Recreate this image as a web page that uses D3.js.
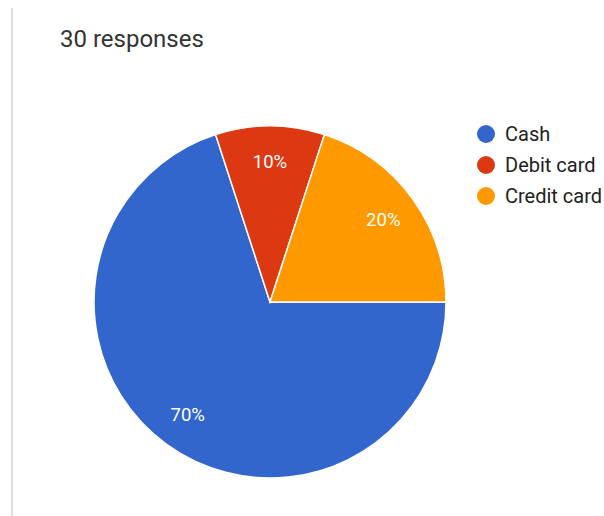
<!DOCTYPE html>
<html>
<head>
    <script src="https://d3js.org/d3.v7.min.js"></script>
    <style>
        body {
            margin: 0;
            background: #fff;
            font-family: Roboto, "Noto Sans", Arial, sans-serif;
        }
        .title {
            font-size: 24px;
            fill: #333;
        }
        .legend text {
            font-size: 20px;
            fill: #222;
        }
        .slice-label {
            font-size: 18.5px;
            fill: #fff;
        }
    </style>
</head>
<body>
    <svg id="chart" width="604" height="516"></svg>
    <script>
        const categories = ["Cash", "Debit card", "Credit card"];
        const values = [21, 3, 6];
        const colors = ["#3366cc", "#dc3912", "#ff9900"];
        const totalResponses = 30;

        const svg = d3.select("svg#chart");
        const width = +svg.attr("width");
        const height = +svg.attr("height");

        // light rule on the left edge
        svg.append("line")
            .attr("x1", 12).attr("x2", 12)
            .attr("y1", 8).attr("y2", height)
            .attr("stroke", "#ddd")
            .attr("stroke-width", 2);

        svg.append("text")
            .attr("class", "title")
            .attr("x", 60)
            .attr("y", 47)
            .text(totalResponses + " responses");

        const cx = 270, cy = 302, radius = 176;
        const color = d3.scaleOrdinal().domain(categories).range(colors);

        const data = categories.map((c, i) => ({ name: c, value: values[i] }));
        const total = d3.sum(values);

        const pie = d3.pie()
            .value(d => d.value)
            .sort(null)
            .startAngle(Math.PI / 2)
            .endAngle(Math.PI / 2 + 2 * Math.PI);

        const arc = d3.arc().innerRadius(0).outerRadius(radius);
        const labelArc = d3.arc().innerRadius(140).outerRadius(140);

        const plot = svg.append("g")
            .attr("transform", `translate(${cx},${cy})`);

        const arcs = pie(data);

        plot.selectAll("path")
            .data(arcs)
            .join("path")
            .attr("d", arc)
            .attr("fill", d => color(d.data.name))
            .attr("stroke", "#fff")
            .attr("stroke-width", 1.5);

        plot.selectAll("text")
            .data(arcs)
            .join("text")
            .attr("class", "slice-label")
            .attr("transform", d => `translate(${labelArc.centroid(d)})`)
            .attr("text-anchor", "middle")
            .attr("dominant-baseline", "central")
            .text(d => Math.round(d.data.value / total * 100) + "%");

        const legend = svg.append("g")
            .attr("class", "legend")
            .attr("transform", "translate(486,134)");

        const items = legend.selectAll("g")
            .data(categories)
            .join("g")
            .attr("transform", (d, i) => `translate(0,${i * 31})`);

        items.append("circle")
            .attr("r", 9)
            .attr("fill", d => color(d));

        items.append("text")
            .attr("x", 19)
            .attr("dy", "0.36em")
            .text(d => d);
    </script>
</body>
</html>
